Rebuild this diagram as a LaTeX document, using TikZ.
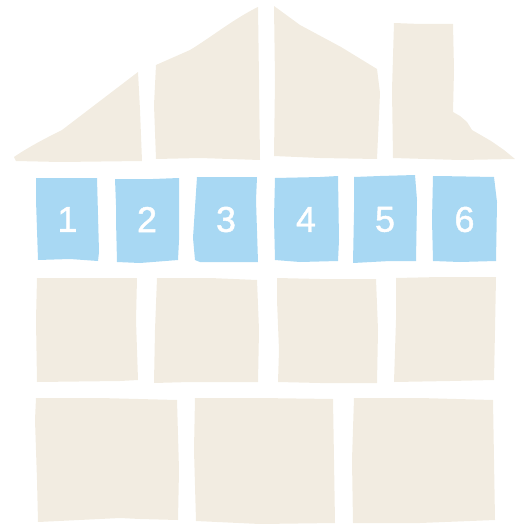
\documentclass[tikz,border=0pt]{standalone}
\usepackage{fontspec}
\setmainfont{Liberation Sans}
\newfontfamily\numfont[FakeBold=1.2]{Liberation Sans}
\definecolor{beige}{RGB}{242,236,225}
\definecolor{skyb}{RGB}{168,216,243}
\begin{document}
\begin{tikzpicture}[x=1pt,y=-1pt,
  wall/.style={fill=beige,draw=none},
  win/.style={fill=skyb,draw=none},
  num/.style={text=white,font=\numfont\fontsize{36}{36}\selectfont,inner sep=0pt}]
\useasboundingbox (0,0) rectangle (518,524);
% roof pieces
\path[wall] (14,157) .. controls (30,146) and (50,136) .. (62,130) -- (138,72) -- (140,110) -- (142,161) -- (60,162) -- (16,161) -- cycle;
\path[wall] (156,65) -- (190,50) .. controls (210,38) and (235,18) .. (258,7) -- (259,80) -- (260,160) -- (200,158) -- (156,159) -- (154,105) -- cycle;
\path[wall] (274,6) -- (300,25) -- (341,47) -- (377,69) -- (380,93) -- (377,159) -- (320,158) -- (274,156) -- (275,80) -- cycle;
\path[wall] (394,23) -- (420,24) -- (453,24) -- (454,70) -- (453,112) -- (460,116) -- (467,122) -- (472,130) -- (491,141) -- (504,150) -- (515,159) -- (460,160) -- (393,158) -- (392,90) -- cycle;
% windows
\path[win] (36,178) -- (53,178) -- (97,178) -- (99,252) -- (98,261) -- (70,259) -- (38,260) -- (36,200) -- cycle;
\path[win] (115,179) -- (153,179) -- (179,178) -- (179,240) -- (178,260) -- (140,263) -- (117,262) -- (116,220) -- (116,205) -- cycle;
\path[win] (197,177) -- (257,177) -- (256,200) -- (258,262) -- (200,262) -- (195,260) -- (193,238) -- cycle;
\path[win] (275,178) -- (320,177) -- (338,176) -- (339,240) -- (338,261) -- (300,262) -- (275,260) -- (274,218) -- cycle;
\path[win] (354,177) -- (380,176) -- (415,175) -- (417,200) -- (416,261) -- (390,261) -- (353,263) -- (354,212) -- cycle;
\path[win] (433,176) -- (438,176) -- (494,177) -- (497,202) -- (496,261) -- (460,262) -- (433,261) -- (432,220) -- cycle;
\node[num] (n1) at (67.5,219.5) {1};
\node[num] (n2) at (147,219.5) {2};
\node[num] (n3) at (226,219.5) {3};
\node[num] (n4) at (306,219.5) {4};
\node[num] (n5) at (385,219.5) {5};
\node[num] (n6) at (464.5,219.5) {6};
% third row
\path[wall] (37,278) -- (80,278) -- (137,278) -- (136,320) -- (138,380) -- (120,381) -- (37,382) -- (36,320) -- cycle;
\path[wall] (157,278) -- (210,278) -- (257,280) -- (259,330) -- (258,382) -- (190,382) -- (154,383) -- (155,330) -- cycle;
\path[wall] (277,278) -- (320,279) -- (376,279) -- (378,330) -- (377,383) -- (320,383) -- (278,382) -- (279,350) -- (277,300) -- cycle;
\path[wall] (396,278) -- (440,277) -- (496,277) -- (495,330) -- (494,380) -- (450,381) -- (394,382) -- (396,320) -- cycle;
% fourth row
\path[wall] (36,398) -- (100,398) -- (177,400) -- (179,470) -- (178,520) -- (140,519) -- (120,518) -- (38,522) -- (37,480) -- (35,420) -- cycle;
\path[wall] (195,398) -- (260,398) -- (333,399) -- (334,460) -- (335,523) -- (260,524) -- (196,521) -- (194,450) -- cycle;
\path[wall] (354,398) -- (420,398) -- (493,400) -- (494,460) -- (495,520) -- (420,523) -- (353,523) -- (352,460) -- cycle;
\end{tikzpicture}
\end{document}
